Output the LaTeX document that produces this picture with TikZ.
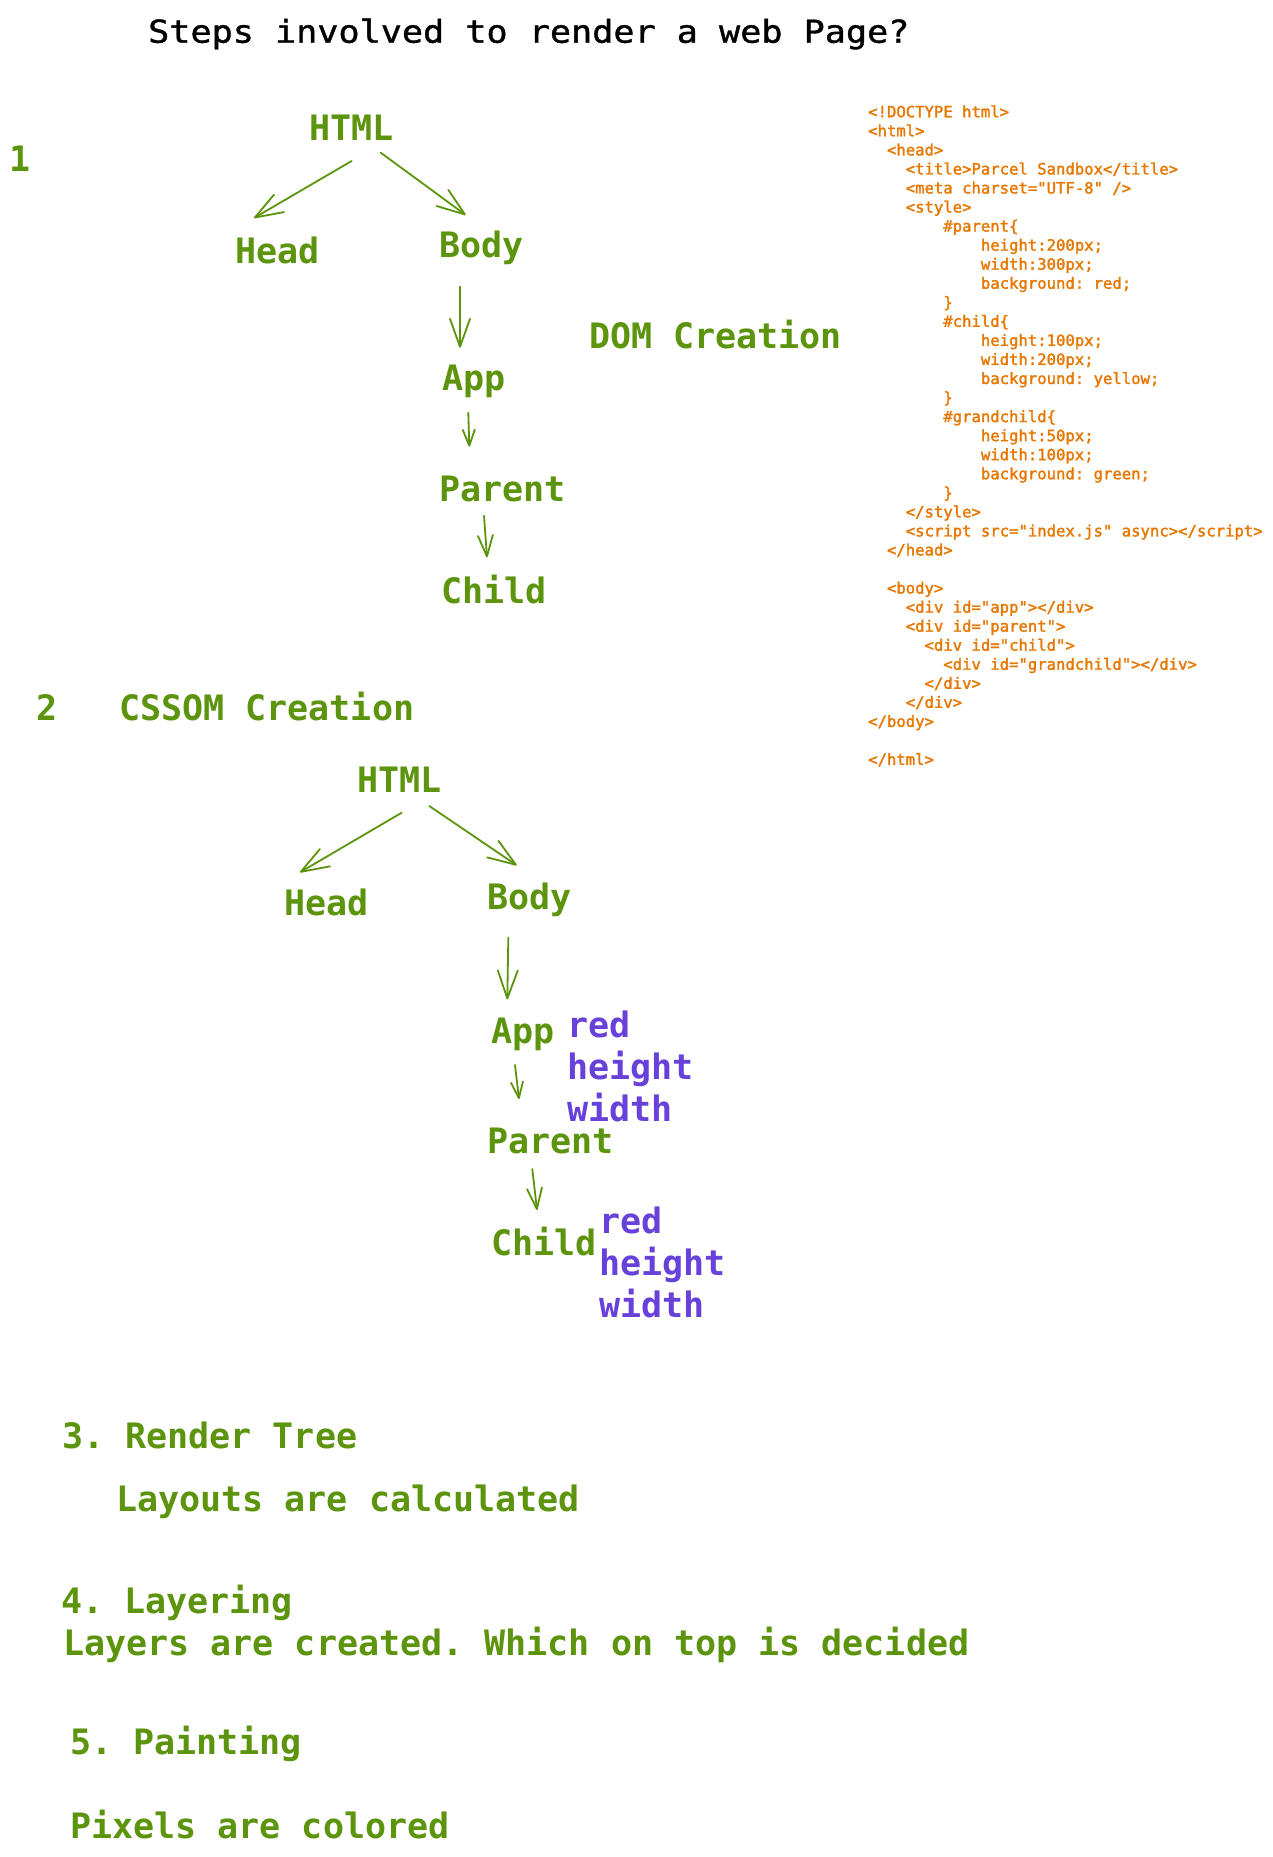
\documentclass[tikz,border=0pt]{standalone}
\usepackage{fontspec}
\usetikzlibrary{arrows.meta}

% monospaced faces for the labels, the code listing and the heading
\newfontfamily\codemono{DejaVu Sans Mono}
\newfontfamily\listmono[FakeBold=1.8]{DejaVu Sans Mono}
\newfontfamily\headmono[FakeStretch=1.115,FakeBold=1.2]{DejaVu Sans Mono}

\definecolor{leaf}{HTML}{5C940D}
\definecolor{cssviolet}{HTML}{6741D9}
\definecolor{codeorange}{HTML}{E67700}

% indentation by whole character cells of the current monospaced font
\newcommand\ind[1]{\hspace*{#1\fontcharwd\font`0}}

\frenchspacing

\begin{document}
\begin{tikzpicture}[x=1pt,y=-1pt,
  label/.style={anchor=base west, inner sep=0pt, text=leaf,
    font={\codemono\bfseries\fontsize{35}{42}\selectfont\frenchspacing}},
  props/.style={anchor=base west, inner sep=0pt, text=cssviolet,
    font={\codemono\bfseries\fontsize{35}{42.3}\selectfont}},
  listing/.style={anchor=base west, inner sep=0pt, text=codeorange,
    font={\listmono\fontsize{15.6}{19.05}\selectfont\frenchspacing}},
  heading/.style={anchor=base west, inner sep=0pt, text=black,
    font={\headmono\fontsize{31.5}{38}\selectfont}},
  arrbig/.style={draw=leaf, line width=1.8pt, line cap=round,
    -{Straight Barb[length=28pt,width=20pt,round]}},
  arrmid/.style={draw=leaf, line width=1.8pt, line cap=round,
    -{Straight Barb[length=21pt,width=15pt,round]}},
  arrsmall/.style={draw=leaf, line width=1.8pt, line cap=round,
    -{Straight Barb[length=16pt,width=12pt,round]}},
]
\fill[white] (0,0) rectangle (1273,1857);
\useasboundingbox (0,0) rectangle (1273,1857);

% heading
\node[heading] (title) at (148,42.7) {Steps involved to render a web Page?};

% step 1: DOM tree
\node[label] (n1)     at (9,171)   {1};
\node[label] (html)   at (309,140) {HTML};
\node[label] (head)   at (235,263) {Head};
\node[label] (body)   at (439,257) {Body};
\node[label] (app)    at (442,390) {App};
\node[label] (parent) at (439,501) {Parent};
\node[label] (child)  at (441,603) {Child};
\node[label] (dom)    at (589,348) {DOM Creation};

\draw[arrbig]   ([shift={(42.7,21)}]html.base west)   -- ([shift={(19,-45)}]head.base west);
\draw[arrbig]   ([shift={(71.7,12.7)}]html.base west) -- ([shift={(26.7,-42)}]body.base west);
\draw[arrbig]   ([shift={(21,29.7)}]body.base west)   -- ([shift={(18,-42.3)}]app.base west);
\draw[arrsmall] ([shift={(26.3,22.7)}]app.base west)  -- ([shift={(30.3,-54.3)}]parent.base west);
\draw[arrmid]   ([shift={(45,14.7)}]parent.base west) -- ([shift={(46,-45.7)}]child.base west);

% source listing
\node[listing] (code) at (868,117.3) {\begin{tabular}[t]{@{}l@{}}
<!DOCTYPE html>\\
<html>\\
\ind{2}<head>\\
\ind{4}<title>Parcel Sandbox</title>\\
\ind{4}<meta charset="UTF-8" />\\
\ind{4}<style>\\
\ind{8}\#parent\{\\
\ind{12}height:200px;\\
\ind{12}width:300px;\\
\ind{12}background: red;\\
\ind{8}\}\\
\ind{8}\#child\{\\
\ind{12}height:100px;\\
\ind{12}width:200px;\\
\ind{12}background: yellow;\\
\ind{8}\}\\
\ind{8}\#grandchild\{\\
\ind{12}height:50px;\\
\ind{12}width:100px;\\
\ind{12}background: green;\\
\ind{8}\}\\
\ind{4}</style>\\
\ind{4}<script src="index.js" async></script>\\
\ind{2}</head>\\
\\
\ind{2}<body>\\
\ind{4}<div id="app"></div>\\
\ind{4}<div id="parent">\\
\ind{6}<div id="child">\\
\ind{8}<div id="grandchild"></div>\\
\ind{6}</div>\\
\ind{4}</div>\\
</body>\\
\\
</html>
\end{tabular}};

% step 2: CSSOM tree
\node[label] (n2)      at (36,720)    {2};
\node[label] (cssom)   at (119,720)   {CSSOM Creation};
\node[label] (html2)   at (357,792)   {HTML};
\node[label] (head2)   at (284,915)   {Head};
\node[label] (body2)   at (487,909)   {Body};
\node[label] (app2)    at (491,1043)  {App};
\node[label] (parent2) at (487,1153)  {Parent};
\node[label] (child2)  at (491,1255)  {Child};
\node[props] (propsA)  at (567,1037.3) {\begin{tabular}[t]{@{}l@{}}red\\height\\width\end{tabular}};
\node[props] (propsB)  at (599,1233.3) {\begin{tabular}[t]{@{}l@{}}red\\height\\width\end{tabular}};

\draw[arrbig]   ([shift={(44.7,20.7)}]html2.base west) -- ([shift={(16,-42.7)}]head2.base west);
\draw[arrbig]   ([shift={(72.3,14)}]html2.base west)   -- ([shift={(29.7,-43.7)}]body2.base west);
\draw[arrbig]   ([shift={(21.3,28.7)}]body2.base west) -- ([shift={(16.3,-43.7)}]app2.base west);
\draw[arrsmall] ([shift={(24,22)}]app2.base west)      -- ([shift={(32,-54)}]parent2.base west);
\draw[arrmid]   ([shift={(45.3,16)}]parent2.base west) -- ([shift={(46,-45)}]child2.base west);

% steps 3 to 5
\node[label] (s3)  at (62,1448.3)  {3. Render Tree};
\node[label] (s3b) at (116,1511.7) {Layouts are calculated};
\node[label] (s4)  at (61,1613.3)  {4. Layering};
\node[label] (s4b) at (63,1655)    {Layers are created. Which on top is decided};
\node[label] (s5)  at (70,1754)    {5. Painting};
\node[label] (s5b) at (70,1838.3)  {Pixels are colored};
\end{tikzpicture}
\end{document}
